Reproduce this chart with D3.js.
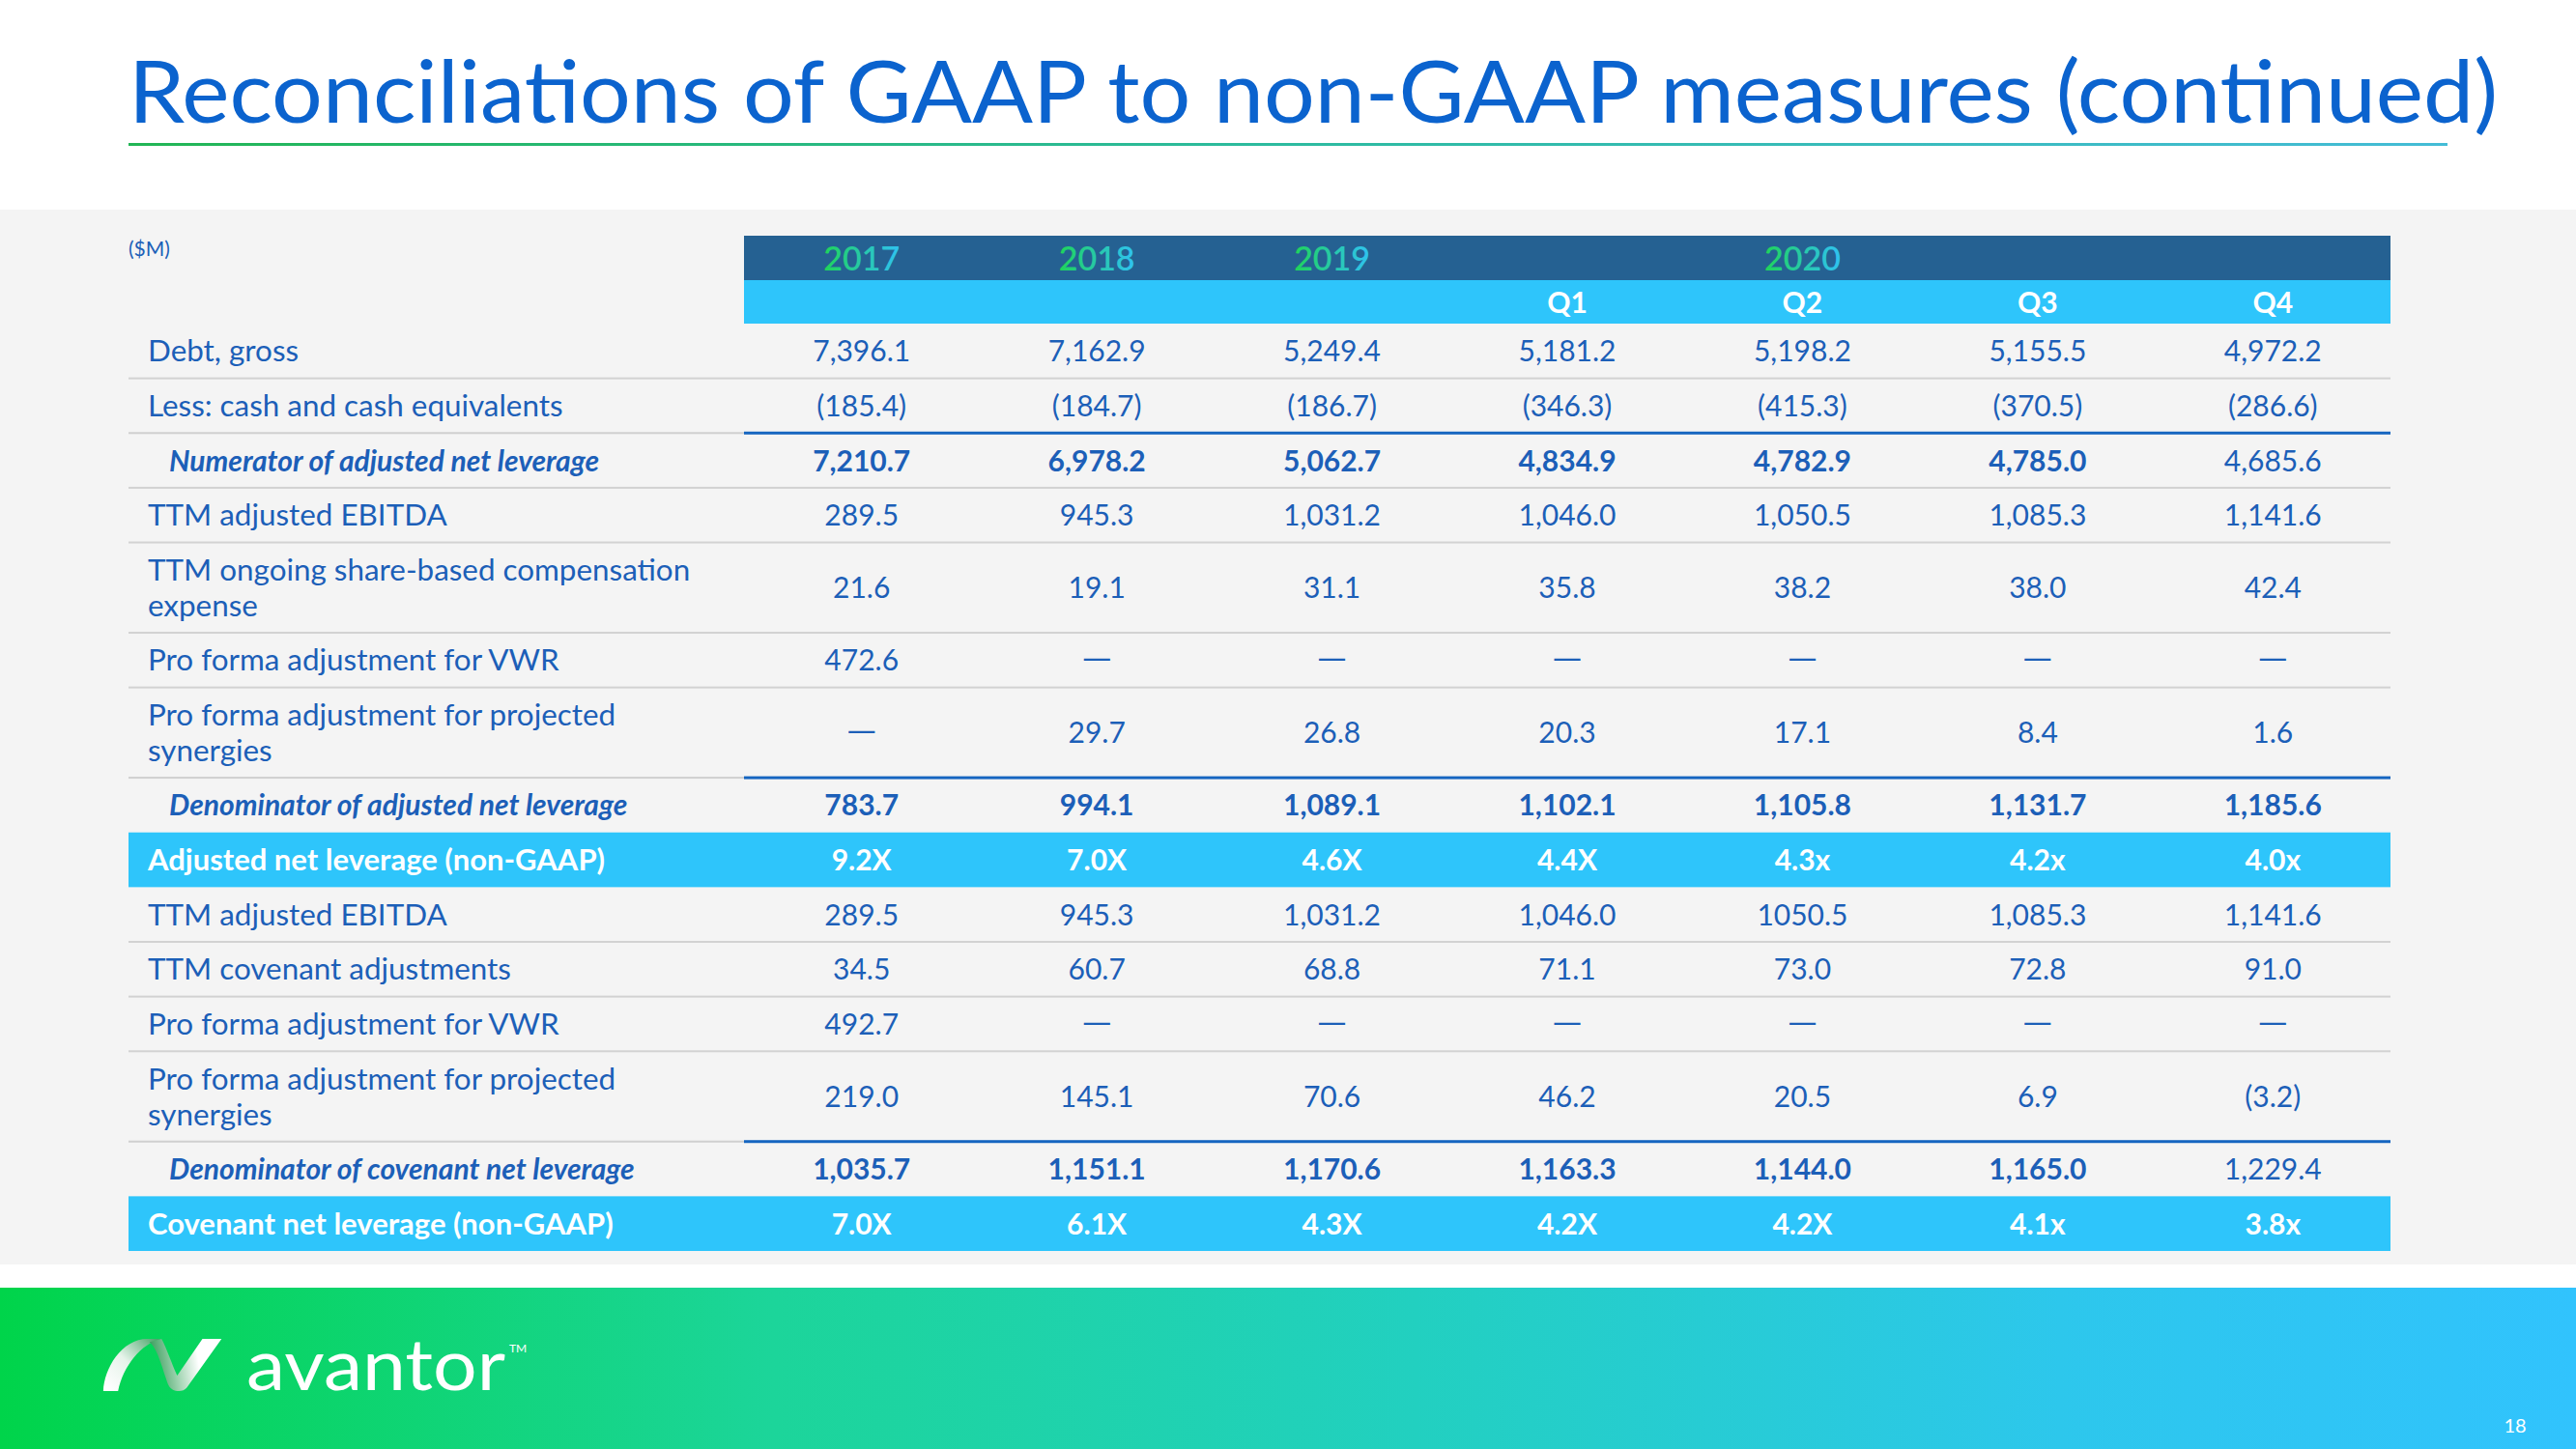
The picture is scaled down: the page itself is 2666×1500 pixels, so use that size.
<!DOCTYPE html>
<html><head><meta charset="utf-8">
<script src="https://cdn.jsdelivr.net/npm/d3@7"></script>
<style>html,body{margin:0;padding:0;background:#fff;} svg{display:block;}</style>
</head><body>
<svg id="c" width="2666" height="1500"></svg>
<script>
// ---------------- DATA ----------------
const titleText = "Reconciliations of GAAP to non-GAAP measures (continued)";
const unitLabel = "($M)";
const pageNumber = "18";
const brandName = "avantor";
const periods = ["2017","2018","2019","Q1","Q2","Q3","Q4"];
const yearHeader = ["2017","2018","2019","","2020","",""];
const quarterHeader = ["","","","Q1","Q2","Q3","Q4"];

const rowLabels = [
  ["Debt, gross"],
  ["Less: cash and cash equivalents"],
  ["Numerator of adjusted net leverage"],
  ["TTM adjusted EBITDA"],
  ["TTM ongoing share-based compensation","expense"],
  ["Pro forma adjustment for VWR"],
  ["Pro forma adjustment for projected","synergies"],
  ["Denominator of adjusted net leverage"],
  ["Adjusted net leverage (non-GAAP)"],
  ["TTM adjusted EBITDA"],
  ["TTM covenant adjustments"],
  ["Pro forma adjustment for VWR"],
  ["Pro forma adjustment for projected","synergies"],
  ["Denominator of covenant net leverage"],
  ["Covenant net leverage (non-GAAP)"]
];
const rowKinds = ["item","item","subtotal","item","item","item","item","subtotal","ratio","item","item","item","item","subtotal","ratio"];

const debtGross         = ["7,396.1","7,162.9","5,249.4","5,181.2","5,198.2","5,155.5","4,972.2"];
const cashEquivalents   = ["(185.4)","(184.7)","(186.7)","(346.3)","(415.3)","(370.5)","(286.6)"];
const numeratorAdjNet   = ["7,210.7","6,978.2","5,062.7","4,834.9","4,782.9","4,785.0","4,685.6"];
const ttmAdjEbitda      = ["289.5","945.3","1,031.2","1,046.0","1,050.5","1,085.3","1,141.6"];
const ttmShareComp      = ["21.6","19.1","31.1","35.8","38.2","38.0","42.4"];
const proFormaVwrAdj    = ["472.6","—","—","—","—","—","—"];
const synergiesAdj      = ["—","29.7","26.8","20.3","17.1","8.4","1.6"];
const denominatorAdjNet = ["783.7","994.1","1,089.1","1,102.1","1,105.8","1,131.7","1,185.6"];
const adjNetLeverage    = ["9.2X","7.0X","4.6X","4.4X","4.3x","4.2x","4.0x"];
const ttmAdjEbitdaCov   = ["289.5","945.3","1,031.2","1,046.0","1050.5","1,085.3","1,141.6"];
const covenantAdj       = ["34.5","60.7","68.8","71.1","73.0","72.8","91.0"];
const proFormaVwrCov    = ["492.7","—","—","—","—","—","—"];
const synergiesCov      = ["219.0","145.1","70.6","46.2","20.5","6.9","(3.2)"];
const denominatorCov    = ["1,035.7","1,151.1","1,170.6","1,163.3","1,144.0","1,165.0","1,229.4"];
const covNetLeverage    = ["7.0X","6.1X","4.3X","4.2X","4.2X","4.1x","3.8x"];

const rowValues = [debtGross, cashEquivalents, numeratorAdjNet, ttmAdjEbitda, ttmShareComp,
  proFormaVwrAdj, synergiesAdj, denominatorAdjNet, adjNetLeverage, ttmAdjEbitdaCov,
  covenantAdj, proFormaVwrCov, synergiesCov, denominatorCov, covNetLeverage];
// subtotal cells shown in regular weight in the source
const plainSubtotalCells = [[2,"Q4"],[13,"Q4"]];

// ---------------- DRAW ----------------
const FONT = "Lato, 'Open Sans', sans-serif";
const BLUE = "#1c5fb8";
const svg = d3.select("#c").style("font-family", FONT);
const defs = svg.append("defs");

function lin(id, stops, coords) {
  const g = defs.append("linearGradient").attr("id", id);
  if (coords) {
    g.attr("gradientUnits","userSpaceOnUse").attr("x1",coords[0]).attr("y1",coords[1]).attr("x2",coords[2]).attr("y2",coords[3]);
  } else {
    g.attr("x1","0%").attr("x2","100%").attr("y1","0%").attr("y2","0%");
  }
  stops.forEach(s => g.append("stop").attr("offset", s[0]).attr("stop-color", s[1]));
  return g;
}
lin("ul", [[0,"#22b655"],[0.5,"#2dbba0"],[1,"#44bcd6"]]);
lin("foot", [[0,"#00d44a"],[0.3,"#1cd59a"],[0.55,"#22d0c0"],[0.8,"#2dc7ec"],[1,"#31c3fd"]]);
lin("yr", [[0,"#1ed45a"],[0.5,"#27c9a8"],[1,"#2fc2f2"]]);
lin("logoL", [[0,"#ffffff"],[0.45,"#e6f3ea"],[1,"#3c9f5f"]], [25,80,90,20]);
lin("logoR", [[0,"#3c9f5f"],[0.35,"#9fd3b0"],[0.7,"#ffffff"],[1,"#ffffff"]], [75,30,150,20]);

// title
svg.append("text").attr("x",133).attr("y",127).attr("font-size",90).attr("fill","#0b63ce")
  .attr("textLength",2452).attr("lengthAdjust","spacingAndGlyphs")
  .text(titleText);
svg.append("rect").attr("x",133).attr("y",148).attr("width",2400).attr("height",3).attr("fill","url(#ul)");

// gray panel
svg.append("rect").attr("x",0).attr("y",217).attr("width",2666).attr("height",1092).attr("fill","#f4f4f4");

// scales
const x = d3.scaleBand().domain(periods).range([770, 2474]).padding(0);
const units = rowLabels.map(l => l.length > 1 ? 1.65 : 1);
const cum = [0]; units.forEach((u,i) => cum.push(cum[i] + u));
const y = d3.scaleLinear().domain([0, cum[cum.length-1]]).range([335, 1295]);
const labelX = 153, tableLeft = 133, tableRight = x.range()[1];

// header bands
svg.append("rect").attr("x",770).attr("y",244).attr("width",tableRight-770).attr("height",46).attr("fill","#256192");
svg.append("rect").attr("x",770).attr("y",290).attr("width",tableRight-770).attr("height",45).attr("fill","#2ec5fb");
svg.append("text").attr("x",133).attr("y",265).attr("font-size",21).attr("fill",BLUE).text(unitLabel);

svg.append("g").selectAll("text").data(periods).join("text")
  .attr("x", p => x(p) + x.bandwidth()/2).attr("y", 280).attr("text-anchor","middle")
  .attr("font-size", 34).attr("font-weight", 600).attr("fill","url(#yr)")
  .text((p,i) => yearHeader[i]);
svg.append("g").selectAll("text").data(periods).join("text")
  .attr("x", p => x(p) + x.bandwidth()/2).attr("y", 324).attr("text-anchor","middle")
  .attr("font-size", 30).attr("font-weight", 700).attr("fill","#fff")
  .text((p,i) => quarterHeader[i]);

// rows
const rows = rowLabels.map((lab,i) => ({i, lab, kind: rowKinds[i], vals: rowValues[i], y0: y(cum[i]), y1: y(cum[i+1])}));

// highlight backgrounds
svg.append("g").selectAll("rect").data(rows.filter(r => r.kind === "ratio")).join("rect")
  .attr("x", tableLeft).attr("y", r => r.y0).attr("width", tableRight - tableLeft).attr("height", r => r.y1 - r.y0)
  .attr("fill", "#2ec5fb");

// separators
const sep = svg.append("g");
rows.forEach((r, i) => {
  if (i === rows.length - 1) return;
  const next = rows[i+1];
  if (r.kind === "ratio" || next.kind === "ratio") return;
  const yy = r.y1;
  if (next.kind === "subtotal") {
    sep.append("rect").attr("x", tableLeft).attr("y", yy-1).attr("width", 770 - tableLeft).attr("height", 2).attr("fill", "#cfcfcf");
    sep.append("rect").attr("x", 770).attr("y", yy-1.5).attr("width", tableRight - 770).attr("height", 3).attr("fill", "#1565c0");
  } else {
    sep.append("rect").attr("x", tableLeft).attr("y", yy-1).attr("width", tableRight - tableLeft).attr("height", 2).attr("fill", "#d2d2d2");
  }
});

// labels + values
const LINE = 37;
const labelSize = {item: 31.4, subtotal: 30, ratio: 31};
rows.forEach(r => {
  const mid = (r.y0 + r.y1) / 2;
  const n = r.lab.length;
  const lx = r.kind === "subtotal" ? 175 : labelX;
  const t = svg.append("text")
    .attr("x", lx)
    .attr("font-size", labelSize[r.kind])
    .attr("fill", r.kind === "ratio" ? "#fff" : BLUE)
    .attr("font-weight", r.kind === "item" ? 400 : 700)
    .attr("font-style", r.kind === "subtotal" ? "italic" : "normal");
  r.lab.forEach((line, k) => {
    t.append("tspan").attr("x", lx)
      .attr("y", mid + 11 + (k - (n-1)/2) * LINE).text(line);
  });
  svg.append("g").selectAll("text").data(periods).join("text")
    .attr("x", p => x(p) + x.bandwidth()/2).attr("y", (p,j) => r.vals[j] === "—" ? mid + 8 : mid + 11)
    .attr("text-anchor","middle")
    .attr("font-size", 30)
    .attr("font-family", (p,j) => r.vals[j] === "—" ? "'DejaVu Sans', sans-serif" : null)
    .attr("fill", r.kind === "ratio" ? "#fff" : BLUE)
    .attr("font-weight", p => {
      if (r.kind === "item") return 400;
      if (plainSubtotalCells.some(c => c[0] === r.i && c[1] === p)) return 400;
      return 700;
    })
    .text((p, j) => r.vals[j]);
});

// footer
svg.append("rect").attr("x",0).attr("y",1333).attr("width",2666).attr("height",167).attr("fill","url(#foot)");
const logo = svg.append("g").attr("transform","translate(88,1371) scale(0.9,0.83)");
logo.append("path")
  .attr("d","M 21 83 C 22 55, 42 18, 72 18 L 88 18 C 64 24, 44 52, 38 83 Z")
  .attr("fill","url(#logoL)");
logo.append("path")
  .attr("d","M 74 22 C 84 30, 90 60, 96 76 C 99 84, 112 86, 117 79 L 157 18 L 135 18 L 106 64 C 100 50, 94 30, 88 18 Z")
  .attr("fill","url(#logoR)");
svg.append("text").attr("x",255).attr("y",1439).attr("font-size",74).attr("fill","#fff")
  .attr("textLength",268).attr("lengthAdjust","spacingAndGlyphs").text(brandName);
svg.append("text").attr("x",527).attr("y",1400).attr("font-size",12).attr("fill","#fff").text("TM");
svg.append("text").attr("x",2603).attr("y",1483).attr("text-anchor","middle").attr("font-size",20).attr("fill","#fff").text(pageNumber);
</script>
</body></html>
